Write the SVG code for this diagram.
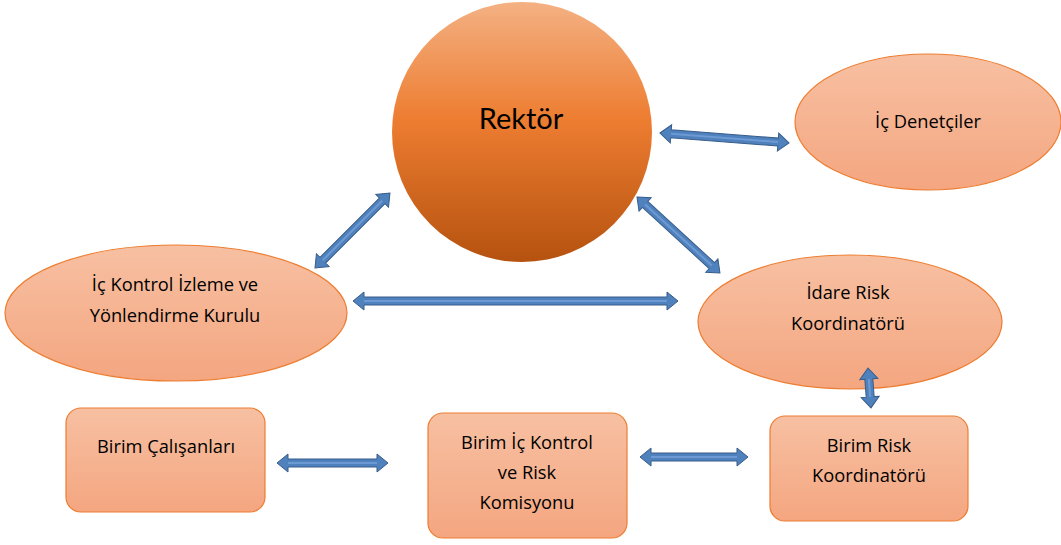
<svg xmlns="http://www.w3.org/2000/svg" width="1061" height="545" viewBox="0 0 1061 545">
<defs>
<linearGradient id="gRek" x1="0" y1="0" x2="0" y2="1">
<stop offset="0" stop-color="#f4b183"/>
<stop offset="0.45" stop-color="#ed7d31"/>
<stop offset="1" stop-color="#b5520f"/>
</linearGradient>
<linearGradient id="gLight" x1="0" y1="0" x2="0" y2="1">
<stop offset="0" stop-color="#f7c0a2"/>
<stop offset="1" stop-color="#f4a680"/>
</linearGradient>
</defs>
<style>
.lt{fill:url(#gLight);stroke:#ed7d31;stroke-width:1.2}
.t{font-family:"Open Sans","Liberation Sans",sans-serif;font-size:18.3px;fill:#000;text-anchor:middle}
.arr polygon{fill:#4f81bd;stroke:#385d8a;stroke-width:1}
.arr line{stroke:#6d9ad4;stroke-width:2}
</style>
<rect width="1061" height="545" fill="#fff"/>
<g id="rektor">
<circle cx="522" cy="132" r="130" fill="url(#gRek)"/>
<text x="521" y="129" style="font-family:Lato,'Liberation Sans',sans-serif;font-size:29px;text-anchor:middle">Rektör</text>
</g>
<g id="ic-denetciler">
<ellipse class="lt" cx="928" cy="122" rx="133" ry="68"/>
<text class="t" x="928" y="128">İç Denetçiler</text>
</g>
<g id="ic-kontrol-kurulu">
<ellipse class="lt" cx="176" cy="313" rx="171" ry="68"/>
<text class="t" x="175" y="291">İç Kontrol İzleme ve</text>
<text class="t" x="175" y="322">Yönlendirme Kurulu</text>
</g>
<g id="idare-risk">
<ellipse class="lt" cx="850" cy="322" rx="152" ry="67"/>
<text class="t" x="848" y="299">İdare Risk</text>
<text class="t" x="848" y="330">Koordinatörü</text>
</g>
<g id="birim-calisanlari">
<rect class="lt" x="66" y="408" width="199" height="104" rx="15"/>
<text class="t" x="166" y="453">Birim Çalışanları</text>
</g>
<g id="birim-ic-kontrol">
<rect class="lt" x="428" y="413" width="199" height="125" rx="15"/>
<text class="t" x="527" y="449">Birim İç Kontrol</text>
<text class="t" x="527" y="479">ve Risk</text>
<text class="t" x="527" y="509">Komisyonu</text>
</g>
<g id="birim-risk">
<rect class="lt" x="770" y="416" width="198" height="105" rx="15"/>
<text class="t" x="869" y="452">Birim Risk</text>
<text class="t" x="869" y="482">Koordinatörü</text>
</g>
<g id="connectors" class="arr">
<g transform="translate(315,268) rotate(-45)">
<polygon points="0,0 11,-9 11,-4 95,-4 95,-9 106,0 95,9 95,4 11,4 11,9"/>
<line x1="11" y1="0" x2="95" y2="0"/>
</g>
<g transform="translate(660,133) rotate(4.4)">
<polygon points="0,0 11,-9 11,-4 118.4,-4 118.4,-9 129.4,0 118.4,9 118.4,4 11,4 11,9"/>
<line x1="11" y1="0" x2="118.4" y2="0"/>
</g>
<g transform="translate(353,301)">
<polygon points="0,0 11,-9 11,-4 314,-4 314,-9 325,0 314,9 314,4 11,4 11,9"/>
<line x1="11" y1="0" x2="314" y2="0"/>
</g>
<g transform="translate(868,368) rotate(85.7)">
<polygon points="0,0 11,-9 11,-4 29,-4 29,-9 40,0 29,9 29,4 11,4 11,9"/>
<line x1="11" y1="0" x2="29" y2="0"/>
</g>
<g transform="translate(277,463)">
<polygon points="0,0 11,-9 11,-4 100,-4 100,-9 111,0 100,9 100,4 11,4 11,9"/>
<line x1="11" y1="0" x2="100" y2="0"/>
</g>
<g transform="translate(640,457)">
<polygon points="0,0 11,-9 11,-4 97,-4 97,-9 108,0 97,9 97,4 11,4 11,9"/>
<line x1="11" y1="0" x2="97" y2="0"/>
</g>
<g transform="translate(637,197) rotate(42.5)">
<polygon points="0,0 11,-9 11,-4 101.5,-4 101.5,-9 112.5,0 101.5,9 101.5,4 11,4 11,9"/>
<line x1="11" y1="0" x2="101.5" y2="0"/>
</g>
</g>
</svg>
